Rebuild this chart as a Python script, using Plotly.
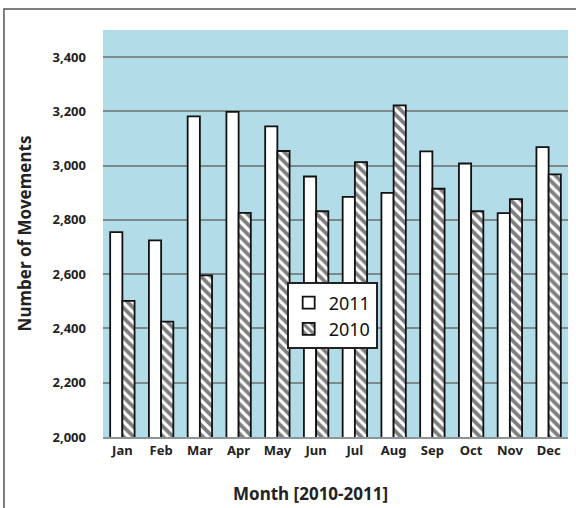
import plotly.graph_objects as go

months = ["Jan", "Feb", "Mar", "Apr", "May", "Jun",
          "Jul", "Aug", "Sep", "Oct", "Nov", "Dec"]
movements_2011 = [2755, 2725, 3182, 3198, 3145, 2960,
                  2885, 2900, 3053, 3008, 2825, 3068]
movements_2010 = [2502, 2425, 2596, 2826, 3054, 2832,
                  3013, 3222, 2915, 2832, 2877, 2968]
y_ticks = [2000, 2200, 2400, 2600, 2800, 3000, 3200, 3400]

FONT = "Noto Sans"
TEXT = "#222222"

fig = go.Figure()
fig.add_trace(go.Bar(
    name="2011", x=months, y=movements_2011,
    marker=dict(color="white", line=dict(color="#111111", width=1.8)),
))
fig.add_trace(go.Bar(
    name="2010", x=months, y=movements_2010,
    marker=dict(
        color="white",
        line=dict(color="#111111", width=1.8),
        pattern=dict(shape="\\", fgcolor="#000000", bgcolor="white",
                     size=7, solidity=0.55),
    ),
))

fig.update_layout(
    width=576, height=508,
    margin=dict(l=103, r=8, t=30, b=71),
    paper_bgcolor="white",
    plot_bgcolor="#b2dce7",
    barmode="group",
    bargap=0.37,
    bargroupgap=0,
    font=dict(family=FONT, color=TEXT),
    showlegend=True,
    legend=dict(
        x=0.395, y=0.38, xanchor="left", yanchor="top",
        bgcolor="white", bordercolor="#222222", borderwidth=2,
        font=dict(size=18, color="#111111", family=FONT),
        tracegroupgap=10, itemwidth=30,
    ),
    xaxis=dict(
        showgrid=False,
        showline=True, linecolor="#8a9598", linewidth=2,
        ticks="", tickfont=dict(size=13, color=TEXT, family=FONT, weight="bold"),
    ),
    yaxis=dict(
        range=[2000, 3500],
        tickvals=y_ticks,
        tickformat=",d",
        showgrid=True, gridcolor="#7c8a8e", gridwidth=2,
        zeroline=False,
        ticks="", ticklabelstandoff=16,
        tickfont=dict(size=13, color=TEXT, family=FONT, weight="bold"),
        title=dict(text="Number of Movements", standoff=16,
                   font=dict(size=17, color=TEXT, family=FONT, weight="bold")),
    ),
    annotations=[dict(
        text="Month [2010-2011]", xref="paper", yref="paper",
        x=0.447, y=-0.1376, xanchor="center", yanchor="middle",
        showarrow=False,
        font=dict(size=17, color=TEXT, family=FONT, weight="bold"),
    )],
    shapes=[dict(
        type="rect", xref="paper", yref="paper",
        x0=-0.213, x1=1.1, y0=-0.3, y1=1.0516,
        line=dict(color="#555555", width=1.5), layer="below",
    )],
)

fig.write_html("out.html")
